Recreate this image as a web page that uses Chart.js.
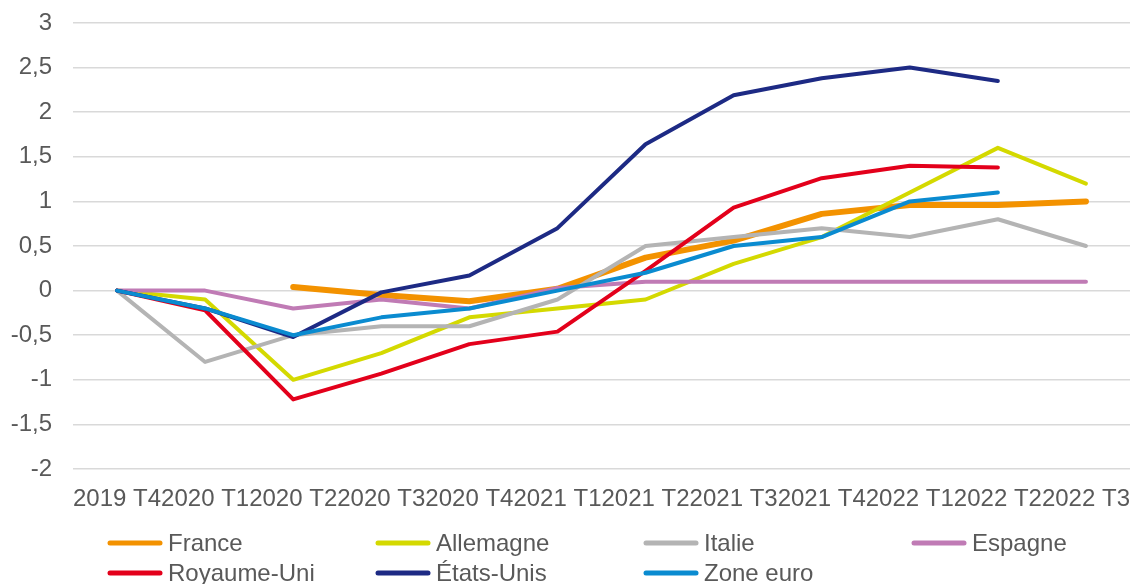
<!DOCTYPE html>
<html>
<head>
<meta charset="utf-8">
<script src="https://cdn.jsdelivr.net/npm/chart.js@4/dist/chart.umd.min.js"></script>
<style>
  body { margin: 0; background: #fff; }
</style>
</head>
<body>
<canvas id="line-chart" width="1134" height="584"></canvas>
<script>
const categories = ["2019 T4", "2020 T1", "2020 T2", "2020 T3", "2020 T4", "2021 T1", "2021 T2", "2021 T3", "2021 T4", "2022 T1", "2022 T2", "2022 T3"];
const france     = [null, null, 0.04, -0.05, -0.12, 0.02, 0.37, 0.56, 0.86, 0.96, 0.96, 1.0];
const allemagne  = [0, -0.1, -1.0, -0.7, -0.3, -0.2, -0.1, 0.3, 0.6, 1.1, 1.6, 1.2];
const italie     = [0, -0.8, -0.5, -0.4, -0.4, -0.1, 0.5, 0.6, 0.7, 0.6, 0.8, 0.5];
const espagne    = [0, 0, -0.2, -0.1, -0.2, 0.03, 0.1, 0.1, 0.1, 0.1, 0.1, 0.1];
const royaumeUni = [0, -0.22, -1.22, -0.93, -0.6, -0.46, 0.22, 0.93, 1.26, 1.4, 1.38, null];
const etatsUnis  = [0, -0.2, -0.52, -0.02, 0.17, 0.7, 1.64, 2.19, 2.38, 2.5, 2.35, null];
const zoneEuro   = [0, -0.2, -0.5, -0.3, -0.2, 0.0, 0.2, 0.5, 0.6, 1.0, 1.1, null];

const FONT = "'Liberation Sans', Arial, sans-serif";
const TXT = "#595959";

const series = [
    { label: "France",      data: france,     color: "#f39200", width: 6 },
    { label: "Allemagne",   data: allemagne,  color: "#d4d900", width: 4 },
    { label: "Italie",      data: italie,     color: "#b4b4b4", width: 4 },
    { label: "Espagne",     data: espagne,    color: "#c07bb5", width: 4 },
    { label: "Royaume-Uni", data: royaumeUni, color: "#e3001b", width: 4 },
    { label: "États-Unis",  data: etatsUnis,  color: "#1d2a84", width: 4 },
    { label: "Zone euro",   data: zoneEuro,   color: "#0a8bd0", width: 4 }
];

// legend in 4 fixed columns, like the original
const gridLegend = {
    id: "gridLegend",
    afterDraw(chart) {
        const ctx = chart.ctx;
        ctx.save();
        ctx.font = "24px " + FONT;
        ctx.fillStyle = TXT;
        ctx.textBaseline = "middle";
        ctx.lineCap = "round";
        series.forEach((s, i) => {
            const col = i % 4, row = Math.floor(i / 4);
            const x = 110 + col * 268;
            const y = 543 + row * 30;
            ctx.strokeStyle = s.color;
            ctx.lineWidth = 5;
            ctx.beginPath();
            ctx.moveTo(x, y);
            ctx.lineTo(x + 50, y);
            ctx.stroke();
            ctx.fillText(s.label, x + 58, y + 1);
        });
        ctx.restore();
    }
};

new Chart(document.getElementById("line-chart"), {
    type: 'line',
    data: {
        labels: categories,
        datasets: series.map((s, i) => ({
            label: s.label,
            data: s.data,
            borderColor: s.color,
            backgroundColor: s.color,
            borderWidth: s.width,
            borderCapStyle: 'round',
            borderJoinStyle: 'round',
            pointRadius: 0,
            tension: 0,
            spanGaps: false,
            order: series.length - i
        }))
    },
    options: {
        responsive: false,
        animation: false,
        devicePixelRatio: 1,
        layout: { padding: { top: 23, right: 4, bottom: 0, left: 0 } },
        plugins: {
            legend: { display: false },
            tooltip: { enabled: false },
            title: { display: false }
        },
        scales: {
            x: {
                offset: true,
                grid: { display: false },
                border: { display: false },
                ticks: {
                    autoSkip: false,
                    maxRotation: 0,
                    minRotation: 0,
                    padding: 8,
                    color: TXT,
                    font: { family: FONT, size: 24 }
                },
                afterFit(scale) {
                    scale.height = 115;
                    scale.paddingLeft = 0;
                    scale.paddingRight = 0;
                }
            },
            y: {
                min: -2,
                max: 3,
                grid: { color: "#d9d9d9", lineWidth: 1.5, drawTicks: false },
                border: { display: false },
                ticks: {
                    stepSize: 0.5,
                    padding: 21,
                    color: TXT,
                    font: { family: FONT, size: 24 },
                    callback: v => String(v).replace('.', ',')
                },
                afterFit(scale) {
                    scale.width = 73;
                    scale.paddingTop = 0;
                    scale.paddingBottom = 0;
                }
            }
        }
    },
    plugins: [gridLegend]
});
</script>
</body>
</html>
